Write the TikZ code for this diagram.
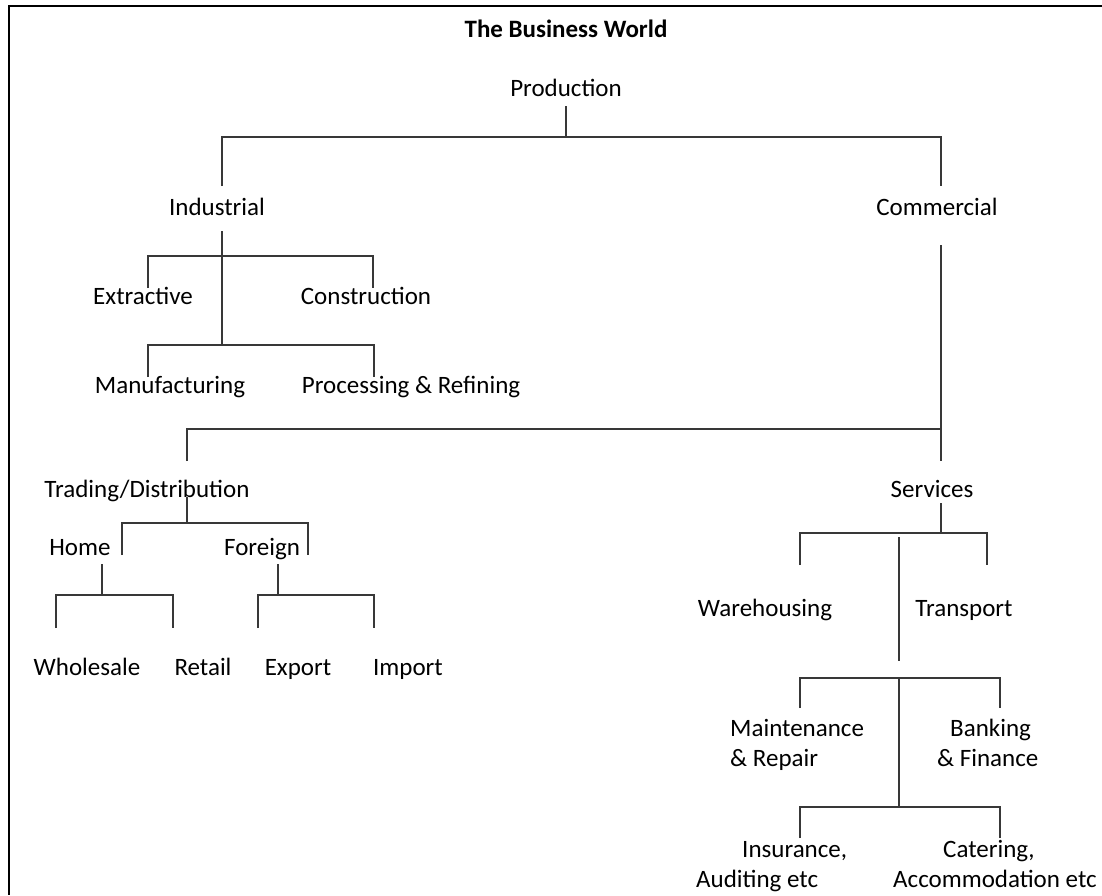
\documentclass[tikz,border=0pt]{standalone}
\usepackage{fontspec}
\setmainfont{Carlito}
\usepackage{tikz}

\begin{document}
\begin{tikzpicture}[x=1pt, y=-1pt,
    label/.style={anchor=base, inner sep=0pt, font=\fontsize{25}{30}\selectfont},
    multi/.style={label, anchor=base west, align=left},
    branch/.style={draw=black!78, line width=1.5pt}]
  \useasboundingbox (0,0) rectangle (1102,895);
  \draw[line width=2pt] (1102,6) -- (9,6) -- (9,895);

  \node (title) [label, font=\fontsize{25}{30}\selectfont\bfseries] at (566,37) {The Business World};
  \node (prod) [label] at (566,96) {Production};
  \node (ind) [label] at (217,215) {Industrial};
  \node (com) [label] at (937,215) {Commercial};
  \node (ext) [label] at (143,304) {Extractive};
  \node (cons) [label] at (366,304) {Construction};
  \node (man) [label] at (170,393) {Manufacturing};
  \node (proc) [label] at (411,393) {Processing \& Refining};
  \node (trad) [label] at (147,497) {Trading/Distribution};
  \node (serv) [label] at (932,497) {Services};
  \node (home) [label] at (80,555) {Home};
  \node (forg) [label] at (262,555) {Foreign};
  \node (whol) [label] at (87,675) {Wholesale};
  \node (ret) [label] at (203,675) {Retail};
  \node (expo) [label] at (298,675) {Export};
  \node (impo) [label] at (408,675) {Import};
  \node (ware) [label] at (765,616) {Warehousing};
  \node (trans) [label] at (964,616) {Transport};
  \node (maint) [multi] at (730,766) {Maintenance\\\& Repair};
  \node (bank) [multi] at (937,766) {\hspace*{13pt}Banking\\\& Finance};
  \node (insu) [multi] at (696,887) {\hspace*{46pt}Insurance,\\Auditing etc};
  \node (cater) [multi] at (893,887) {\hspace*{50pt}Catering,\\Accommodation etc};

  \coordinate (prodtop) at (566,106);
  \coordinate (prodbar) at (566,137);
  \coordinate (indleg) at (222,186);
  \coordinate (comleg) at (941,186);
  \coordinate (indtop) at (222,231);
  \coordinate (indbara) at (222,256);
  \coordinate (indbarb) at (222,345);
  \coordinate (extleg) at (148,288);
  \coordinate (consleg) at (373,288);
  \coordinate (manleg) at (148,377);
  \coordinate (procleg) at (374,377);
  \coordinate (comtop) at (941,245);
  \coordinate (combar) at (941,429);
  \coordinate (tradleg) at (187,461);
  \coordinate (servleg) at (941,461);
  \coordinate (tradtop) at (187,497);
  \coordinate (tradbar) at (187,523);
  \coordinate (homeleg) at (122,555);
  \coordinate (forgleg) at (308,555);
  \coordinate (hometop) at (102,564);
  \coordinate (homebar) at (102,595);
  \coordinate (wholleg) at (56,628);
  \coordinate (retleg) at (173,628);
  \coordinate (forgtop) at (278,564);
  \coordinate (forgbar) at (278,595);
  \coordinate (expoleg) at (258,628);
  \coordinate (impoleg) at (374,628);
  \coordinate (servtop) at (941,503);
  \coordinate (servbar) at (941,533);
  \coordinate (wareleg) at (800,565);
  \coordinate (transleg) at (987,565);
  \coordinate (midtop) at (899,537);
  \coordinate (midend) at (899,661);
  \coordinate (midbara) at (899,678);
  \coordinate (midbarb) at (899,807);
  \coordinate (maintleg) at (800,708);
  \coordinate (bankleg) at (1000,708);
  \coordinate (insuleg) at (800,838);
  \coordinate (caterleg) at (1000,838);

  \draw[branch] (prodtop) -- (prodbar);
  \draw[branch] (indleg) |- (prodbar) -| (comleg);
  \draw[branch] (indtop) -- (indbarb);
  \draw[branch] (extleg) |- (indbara) -| (consleg);
  \draw[branch] (manleg) |- (indbarb) -| (procleg);
  \draw[branch] (comtop) -- (combar);
  \draw[branch] (tradleg) |- (combar) -- (servleg);
  \draw[branch] (tradtop) -- (tradbar);
  \draw[branch] (homeleg) |- (tradbar) -| (forgleg);
  \draw[branch] (hometop) -- (homebar);
  \draw[branch] (wholleg) |- (homebar) -| (retleg);
  \draw[branch] (forgtop) -- (forgbar);
  \draw[branch] (expoleg) |- (forgbar) -| (impoleg);
  \draw[branch] (servtop) -- (servbar);
  \draw[branch] (wareleg) |- (servbar) -| (transleg);
  \draw[branch] (midtop) -- (midend);
  \draw[branch] (midbara) -- (midbarb);
  \draw[branch] (maintleg) |- (midbara) -| (bankleg);
  \draw[branch] (insuleg) |- (midbarb) -| (caterleg);
\end{tikzpicture}
\end{document}
